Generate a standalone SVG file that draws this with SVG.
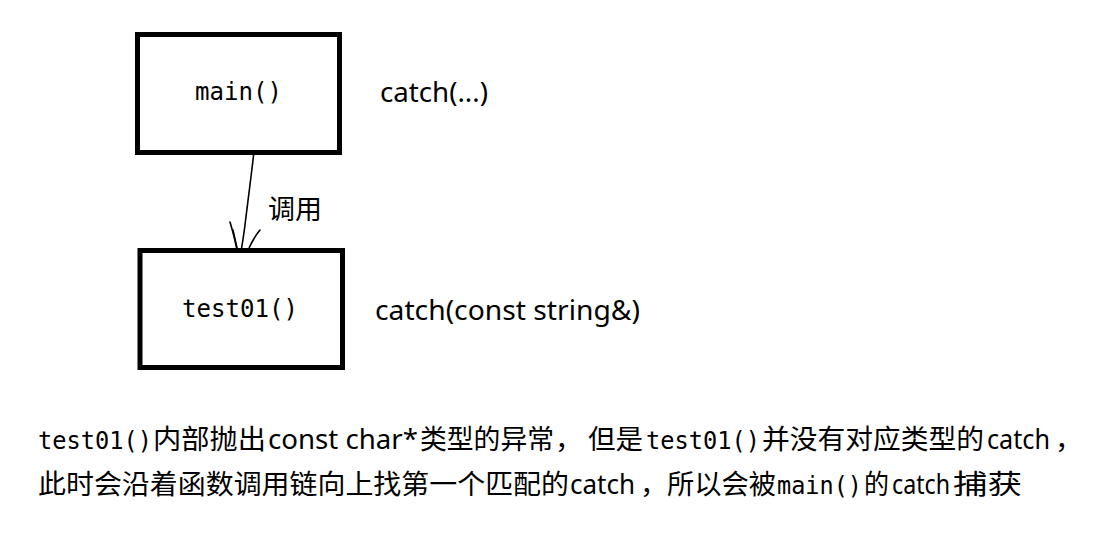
<svg xmlns="http://www.w3.org/2000/svg" width="1103" height="536" viewBox="0 0 1103 536">
<style>
.box{fill:#fff;stroke:#000;stroke-width:5}
.mono{font-family:"DejaVu Sans Mono","Liberation Mono",monospace;font-size:25px;fill:#000}
.sans{font-family:"Noto Sans","Noto Sans CJK SC",sans-serif;font-size:28px;fill:#000}
.nsans{font-family:"Noto Sans","Noto Sans CJK SC",sans-serif;font-size:26.5px;fill:#000}
.cjk{font-family:"Noto Sans CJK SC","Noto Sans",sans-serif;font-size:27.5px;fill:#000}
.pen{fill:none;stroke:#000;stroke-width:1.6;stroke-linecap:round;stroke-linejoin:round}
</style>
<rect width="1103" height="536" fill="#fff"/>
<g id="connectors">
<path class="pen" d="M254.5,147 C252,170 248,200 245,225 C243,240 241.5,250 240,256"/>
<path class="pen" d="M230,222 C233,232 236,242 238,256"/>
<path class="pen" d="M233,230 C235,240 237,248 239,256"/>
<path class="pen" d="M260,230 C255,236 250,244 246,256"/>
<path class="pen" d="M238,256 L245,254"/>
<text class="cjk" x="268" y="219" textLength="54" lengthAdjust="spacingAndGlyphs">调用</text>
</g>
<g id="main">
<rect class="box" x="137.5" y="34.5" width="202" height="118"/>
<text class="mono" x="195" y="100" textLength="87" lengthAdjust="spacingAndGlyphs">main()</text>
</g>
<g id="test01">
<rect class="box" x="140" y="250.5" width="202.5" height="117"/>
<text class="mono" x="182" y="317" textLength="116" lengthAdjust="spacingAndGlyphs">test01()</text>
</g>
<g id="labels">
<text class="sans" x="380" y="102" textLength="108" lengthAdjust="spacingAndGlyphs">catch(...)</text>
<text class="sans" x="375" y="320" textLength="265" lengthAdjust="spacingAndGlyphs">catch(const string&amp;)</text>
</g>
<g id="note">
<text class="mono" x="38" y="449" textLength="114" lengthAdjust="spacingAndGlyphs">test01()</text>
<text class="cjk" x="153" y="449" textLength="113" lengthAdjust="spacingAndGlyphs">内部抛出</text>
<text class="nsans" x="268" y="449" textLength="150" lengthAdjust="spacingAndGlyphs">const char*</text>
<text class="cjk" x="420" y="449" textLength="134" lengthAdjust="spacingAndGlyphs">类型的异常</text>
<text class="cjk" x="555" y="449">，</text>
<text class="cjk" x="588" y="449" textLength="55" lengthAdjust="spacingAndGlyphs">但是</text>
<text class="mono" x="646" y="449" textLength="114" lengthAdjust="spacingAndGlyphs">test01()</text>
<text class="cjk" x="762" y="449" textLength="222" lengthAdjust="spacingAndGlyphs">并没有对应类型的</text>
<text class="nsans" x="987" y="449" textLength="63" lengthAdjust="spacingAndGlyphs">catch</text>
<text class="cjk" x="1055" y="449">，</text>
<text class="cjk" x="38" y="494" textLength="531" lengthAdjust="spacingAndGlyphs">此时会沿着函数调用链向上找第一个匹配的</text>
<text class="nsans" x="570" y="494" textLength="65" lengthAdjust="spacingAndGlyphs">catch</text>
<text class="cjk" x="640" y="494">，</text>
<text class="cjk" x="667" y="494" textLength="109" lengthAdjust="spacingAndGlyphs">所以会被</text>
<text class="mono" x="777" y="494" textLength="85" lengthAdjust="spacingAndGlyphs">main()</text>
<text class="cjk" x="864" y="494" textLength="25" lengthAdjust="spacingAndGlyphs">的</text>
<text class="nsans" x="892" y="494" textLength="58" lengthAdjust="spacingAndGlyphs">catch</text>
<text class="cjk" x="953" y="494" textLength="69" lengthAdjust="spacingAndGlyphs">捕获</text>
</g>
</svg>
